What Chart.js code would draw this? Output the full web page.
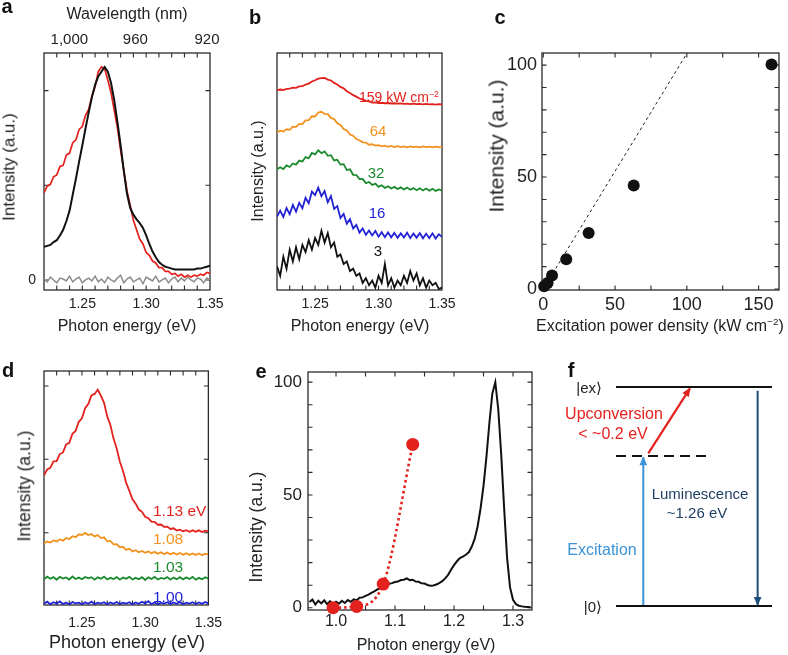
<!DOCTYPE html>
<html>
<head>
<meta charset="utf-8">
<script src="https://cdn.jsdelivr.net/npm/chart.js@4.4.1/dist/chart.umd.min.js"></script>
<style>
  body { margin: 0; background: #fff; }
  #fig { position: relative; width: 788px; height: 655px; overflow: hidden; background: #fff;
         font-family: "Liberation Sans", Arial, Helvetica, sans-serif; color: #222; }
  canvas { position: absolute; }
  .t, .l, .r { position: absolute; white-space: nowrap; line-height: 1; }
  .t { transform: translate(-50%, -50%); }
  .l { transform: translate(0, -50%); }
  .r { transform: translate(-100%, -50%); }
  .v { transform: translate(-50%, -50%) rotate(-90deg); }
  .p { font-weight: bold; font-size: 20px; color: #111; }
  sup { font-size: .62em; vertical-align: .6em; line-height: 0; }
</style>
</head>
<body>
<div id="fig">
  <canvas id="cA" width="232" height="340" style="left:0;top:0"></canvas>
  <canvas id="cB" width="232" height="340" style="left:232px;top:0"></canvas>
  <canvas id="cC" width="324" height="340" style="left:464px;top:0"></canvas>
  <canvas id="cD" width="232" height="315" style="left:0;top:340px"></canvas>
  <canvas id="cE" width="310" height="315" style="left:232px;top:340px"></canvas>
  <canvas id="cF" width="246" height="315" style="left:542px;top:340px"></canvas>

  <!-- panel letters -->
  <div class="t p" style="left:7px;top:6px">a</div>
  <div class="t p" style="left:255px;top:17px">b</div>
  <div class="t p" style="left:500px;top:17px">c</div>
  <div class="t p" style="left:8px;top:370px">d</div>
  <div class="t p" style="left:261px;top:371px">e</div>
  <div class="t p" style="left:571px;top:370px">f</div>

  <!-- axis titles -->
  <div class="t" style="left:127px;top:14px;font-size:16px">Wavelength (nm)</div>
  <div class="t" style="left:127px;top:326px;font-size:16px">Photon energy (eV)</div>
  <div class="t" style="left:360px;top:326px;font-size:16px">Photon energy (eV)</div>
  <div class="l" style="left:536px;top:326px;font-size:16px">Excitation power density (kW cm<sup>−2</sup>)</div>
  <div class="t" style="left:127px;top:642px;font-size:18px">Photon energy (eV)</div>
  <div class="t" style="left:426px;top:645px;font-size:16px">Photon energy (eV)</div>
  <div class="t v" style="left:9px;top:167px;font-size:17px">Intensity (a.u.)</div>
  <div class="t v" style="left:258px;top:171px;font-size:16px">Intensity (a.u.)</div>
  <div class="t v" style="left:496px;top:146px;font-size:21px">Intensity (a.u.)</div>
  <div class="t v" style="left:25px;top:486px;font-size:17.5px">Intensity (a.u.)</div>
  <div class="t v" style="left:257px;top:527px;font-size:17.5px">Intensity (a.u.)</div>

  <!-- panel b labels -->
  <div class="l" style="left:359px;top:97px;font-size:14px;color:#e3211d">159 kW cm<sup>−2</sup></div>
  <div class="t" style="left:378px;top:130px;font-size:15px;color:#f2921e">64</div>
  <div class="t" style="left:376px;top:172px;font-size:15px;color:#1b8a2c">32</div>
  <div class="t" style="left:377px;top:212px;font-size:15px;color:#2323d6">16</div>
  <div class="t" style="left:378px;top:250px;font-size:15px;color:#111">3</div>

  <!-- panel d labels -->
  <div class="l" style="left:153px;top:511px;font-size:15.5px;color:#e3211d">1.13 eV</div>
  <div class="l" style="left:153px;top:539px;font-size:15.5px;color:#f2921e">1.08</div>
  <div class="l" style="left:153px;top:567px;font-size:15.5px;color:#1b8a2c">1.03</div>
  <div class="l" style="left:153px;top:597px;font-size:15.5px;color:#2323d6">1.00</div>

  <!-- panel f labels -->
  <div class="r" style="left:602px;top:387px;font-size:15px">|ex⟩</div>
  <div class="r" style="left:602px;top:606px;font-size:15px">|0⟩</div>
  <div class="t" style="left:614px;top:414px;font-size:16px;color:#e3211d">Upconversion</div>
  <div class="t" style="left:613px;top:434px;font-size:16px;color:#e3211d">&lt; ~0.2 eV</div>
  <div class="t" style="left:700px;top:493px;font-size:15px;color:#1f3f63">Luminescence</div>
  <div class="t" style="left:697px;top:512px;font-size:15px;color:#1f3f63">~1.26 eV</div>
  <div class="t" style="left:602px;top:550px;font-size:16px;color:#3a93d5">Excitation</div>
</div>

<script>
// ---- data ----
const energyGrid = [1.2200, 1.2225, 1.2250, 1.2275, 1.2300, 1.2325, 1.2350, 1.2375, 1.2400, 1.2425,
  1.2450, 1.2475, 1.2500, 1.2525, 1.2550, 1.2575, 1.2600, 1.2625, 1.2650, 1.2675,
  1.2700, 1.2725, 1.2750, 1.2775, 1.2800, 1.2825, 1.2850, 1.2875, 1.2900, 1.2925,
  1.2950, 1.2975, 1.3000, 1.3025, 1.3050, 1.3075, 1.3100, 1.3125, 1.3150, 1.3175,
  1.3200, 1.3225, 1.3250, 1.3275, 1.3300, 1.3325, 1.3350, 1.3375, 1.3400, 1.3425,
  1.3450, 1.3475, 1.3500];

// panel a
const aDirect = [0.35, 0.36, 0.37, 0.40, 0.42, 0.47, 0.53, 0.62, 0.73, 0.90,
  1.07, 1.25, 1.42, 1.60, 1.77, 1.93, 2.06, 2.15, 2.20, 2.25,
  2.20, 2.08, 1.90, 1.67, 1.42, 1.15, 0.91, 0.76, 0.69, 0.64,
  0.60, 0.55, 0.47, 0.38, 0.30, 0.24, 0.19, 0.16, 0.14, 0.13,
  0.12, 0.11, 0.11, 0.11, 0.11, 0.11, 0.11, 0.11, 0.12, 0.12,
  0.13, 0.14, 0.15];
const aUpconv = [0.92, 0.99, 1.01, 1.09, 1.11, 1.20, 1.21, 1.32, 1.34, 1.45,
  1.48, 1.59, 1.62, 1.74, 1.80, 1.94, 2.04, 2.20, 2.25, 2.23,
  2.11, 1.98, 1.79, 1.61, 1.37, 1.16, 0.94, 0.79, 0.63, 0.53,
  0.43, 0.38, 0.29, 0.26, 0.20, 0.18, 0.13, 0.13, 0.09, 0.09,
  0.06, 0.07, 0.04, 0.06, 0.03, 0.05, 0.03, 0.05, 0.04, 0.06,
  0.05, 0.08, 0.07];
const aBackground = [0.01, -0.02, 0.03, 0.00, -0.03, 0.02, 0.01, -0.01, 0.04, -0.02,
  0.01, 0.03, -0.03, 0.00, 0.02, -0.01, 0.04, -0.02, 0.01, -0.03,
  0.03, 0.00, -0.02, 0.02, 0.05, -0.03, 0.01, 0.03, -0.02, 0.00,
  0.02, -0.04, 0.03, 0.01, -0.01, 0.04, -0.02, 0.00, 0.02, -0.03,
  0.01, 0.03, -0.02, 0.02, -0.01, 0.03, 0.00, -0.02, 0.02, 0.01,
  -0.03, 0.02, 0.00];

// panel b (offset spectra, one per power density)
const bPower159 = [84.3, 84.6, 84.4, 84.9, 85.0, 85.4, 85.3, 85.9, 86.0, 86.7,
  87.1, 88.0, 88.5, 89.2, 89.4, 89.5, 88.8, 88.4, 87.4, 86.7,
  85.7, 85.1, 83.9, 83.1, 82.2, 81.6, 80.8, 80.4, 79.8, 79.6,
  79.1, 79.2, 78.9, 79.0, 78.8, 78.9, 78.7, 78.8, 78.6, 78.7,
  78.5, 78.6, 78.4, 78.6, 78.4, 78.5, 78.3, 78.5, 78.3, 78.4,
  78.2, 78.4, 78.3];
const bPower64 = [66.5, 67.2, 66.9, 67.8, 67.6, 68.9, 68.8, 70.1, 70.0, 71.6,
  71.7, 73.3, 73.2, 74.9, 75.2, 74.3, 74.2, 72.6, 72.1, 70.3,
  69.6, 67.9, 67.3, 65.6, 65.1, 63.7, 63.2, 62.3, 62.2, 61.3,
  61.5, 60.9, 61.1, 60.6, 60.9, 60.4, 60.8, 60.3, 60.7, 60.3,
  60.6, 60.2, 60.6, 60.3, 60.5, 60.2, 60.6, 60.3, 60.5, 60.2,
  60.5, 60.3, 60.4];
const bPower32 = [50.9, 51.8, 51.0, 52.6, 51.9, 53.4, 52.9, 54.6, 54.2, 56.1,
  55.6, 57.8, 57.2, 58.9, 57.7, 58.5, 56.6, 56.9, 54.7, 55.0,
  52.9, 53.1, 50.6, 50.9, 48.6, 48.5, 46.8, 46.9, 45.1, 45.6,
  44.3, 44.9, 43.5, 44.2, 43.1, 43.8, 42.8, 43.5, 42.6, 43.3,
  42.4, 43.2, 42.3, 43.0, 42.1, 42.9, 42.0, 42.8, 41.9, 42.7,
  41.8, 42.4, 42.0];
const bPower16 = [31.0, 33.5, 30.8, 34.6, 32.0, 35.9, 33.1, 36.8, 34.5, 38.9,
  36.6, 41.5, 40.0, 43.2, 39.6, 41.8, 37.0, 39.6, 34.2, 35.4,
  30.4, 32.1, 28.0, 29.9, 26.0, 27.5, 24.2, 26.0, 23.3, 25.1,
  23.0, 24.9, 22.5, 24.4, 22.3, 24.3, 22.2, 24.1, 22.0, 23.9,
  22.2, 24.2, 21.9, 23.8, 22.1, 24.0, 21.8, 23.7, 21.9, 23.9,
  21.7, 23.5, 22.4];
const bPower3 = [10, 6, 14, 9, 17, 12, 18, 13, 19, 16,
  21, 17, 22, 19, 25, 20, 24, 18, 20, 14,
  15, 11, 12, 8, 9, 6, 7, 3, 5, 2,
  4, 1, 6, 3, 11, 2, 5, 1, 4, 2,
  6, 3, 8, 4, 7, 2, 5, 1, 4, 2,
  3, 0.5, 1];

// panel c
const powerDensity = [0.6, 3, 6.1, 16, 31.6, 63, 159];
const powerIntensity = [1.2, 2.7, 6, 13.3, 25, 46.2, 100.3];
const fitLineX = [0, 100];
const fitLineY = [0, 105.2];

// panel d (offset spectra, one per excitation energy)
const dExc113 = [55.4, 57.9, 58.6, 61.4, 61.5, 64.5, 65.2, 68.6, 69.3, 73.2,
  74.4, 78.3, 79.8, 84.1, 85.9, 89.6, 90.2, 92.0, 89.5, 86.4,
  80.6, 76.9, 71.1, 66.9, 61.2, 57.3, 52.2, 48.8, 45.2, 43.3,
  40.8, 39.8, 37.7, 37.1, 35.6, 35.5, 34.3, 34.4, 33.4, 33.5,
  32.5, 32.8, 31.8, 32.2, 31.5, 32.0, 31.3, 31.9, 31.3, 31.9,
  31.2, 31.8, 31.5];
const dExc108 = [26.3, 27.1, 26.7, 27.6, 27.1, 28.0, 27.5, 28.6, 28.2, 29.4,
  29.0, 30.2, 29.9, 30.8, 29.9, 30.3, 29.3, 29.9, 28.6, 28.9,
  27.2, 27.4, 25.9, 26.0, 24.7, 24.8, 23.6, 24.0, 22.9, 23.4,
  22.5, 23.1, 22.3, 22.9, 22.1, 22.7, 21.9, 22.5, 21.8, 22.4,
  21.7, 22.3, 21.6, 22.2, 21.5, 22.1, 21.4, 22.0, 21.4, 22.0,
  21.3, 21.9, 21.6];
const dExc103 = [11.0, 12.1, 11.2, 11.9, 10.8, 12.0, 11.3, 11.8, 10.9, 12.2,
  11.1, 11.7, 11.0, 12.0, 11.4, 11.9, 10.8, 11.8, 11.2, 12.1,
  10.9, 11.6, 11.1, 11.9, 10.8, 11.7, 11.2, 12.0, 10.9, 11.6,
  11.0, 11.9, 10.7, 11.8, 11.1, 12.0, 10.9, 11.6, 11.2, 11.9,
  10.8, 11.7, 11.0, 11.9, 10.9, 11.8, 11.1, 12.0, 10.8, 11.6,
  11.0, 11.9, 11.3];
const dExc100 = [0.5, 1.4, 0.3, 1.2, 0.6, 1.5, 0.4, 1.1, 0.2, 1.3,
  0.7, 1.0, 0.3, 1.2, 0.5, 1.4, 0.4, 1.0, 0.6, 1.2,
  0.3, 1.1, 0.5, 1.3, 0.4, 1.0, 0.6, 1.2, 0.3, 1.1,
  0.5, 1.4, 0.7, 1.6, 0.4, 1.1, 0.3, 1.0, 0.6, 1.2,
  0.4, 1.1, 0.5, 1.3, 0.3, 1.0, 0.6, 1.2, 0.4, 1.1,
  0.5, 1.3, 0.6];

// panel e
const eEnergy = [0.955, 0.960, 0.965, 0.970, 0.975, 0.980, 0.985, 0.990, 0.995, 1.000,
  1.005, 1.010, 1.015, 1.020, 1.025, 1.030, 1.035, 1.040, 1.045, 1.050,
  1.055, 1.060, 1.065, 1.070, 1.075, 1.080, 1.085, 1.090, 1.095, 1.100,
  1.105, 1.110, 1.115, 1.120, 1.125, 1.130, 1.135, 1.140, 1.145, 1.150,
  1.155, 1.160, 1.165, 1.170, 1.175, 1.180, 1.185, 1.190, 1.195, 1.200,
  1.205, 1.210, 1.215, 1.220, 1.225, 1.230, 1.235, 1.240, 1.245, 1.250,
  1.255, 1.260, 1.265, 1.270, 1.275, 1.280, 1.285, 1.290, 1.295, 1.300,
  1.305, 1.310, 1.315, 1.320, 1.325, 1.330];
const eSpectrum = [2.5, 3.6, 1.4, 3.1, 1.9, 3.3, 1.6, 2.9, 1.5, 2.7,
  1.8, 3.1, 2.1, 3.4, 2.6, 3.7, 3.3, 4.4, 4.6, 5.3,
  5.8, 6.6, 7.3, 8.1, 8.7, 9.4, 9.9, 10.6, 10.9, 11.4,
  11.6, 12.3, 12.4, 13.0, 12.2, 12.4, 11.6, 11.5, 10.8, 10.7,
  10.1, 9.8, 9.9, 10.3, 10.9, 11.8, 13.0, 14.6, 16.8, 18.9,
  20.6, 22.0, 22.7, 23.5, 24.6, 27.0, 30.5, 36.0, 44.0, 54.0,
  67.0, 82.0, 95.0, 100.0, 88.0, 68.0, 44.0, 22.0, 9.0, 3.5,
  1.6, 0.9, 0.6, 0.4, 0.3, 0.2];
const excEnergy = [0.995, 1.035, 1.08, 1.13];
const excUpconvIntensity = [0, 0.6, 10.5, 72.4];

// panel f (level diagram in its own 0-100 units)
const levelSpan = [0, 100];
const groundLevel = 0, virtualLevel = 68.5, excitedLevel = 100;
const virtualSpan = [0, 60];
const excitationX = [17.5, 17.5], excitationY = [0, 67.9];
const upconvX = [20.7, 47.4], upconvY = [69.7, 99.4];
const lumX = [90.8, 90.8], lumY = [98.3, 0.5];

// ticks
const energyTicks = [1.22, 1.23, 1.24, 1.25, 1.26, 1.27, 1.28, 1.29, 1.30, 1.31, 1.32, 1.33, 1.34, 1.35];
const energyLabels = [1.25, 1.30, 1.35];
const wavelengthTicks = [1000, 960, 920];
const aYTicks = [0, 1, 2];
const dYTicks = [30.9, 62.3, 93.6];
const cXTicks = [0, 25, 50, 75, 100, 125, 150];
const cXLabels = [0, 50, 100, 150];
const hundredTicks = [0, 10, 20, 30, 40, 50, 60, 70, 80, 90, 100];
const hundredLabels = [0, 50, 100];
const eXTicks = [1.0, 1.05, 1.1, 1.15, 1.2, 1.25, 1.3];
const eXLabels = [1.0, 1.1, 1.2, 1.3];

// ---- colours ----
const RED = '#e3211d', ORANGE = '#f2921e', GREEN = '#1b8a2c', BLUE = '#2323d6',
      BLACK = '#111111', GRAY = '#8c8c8c';

Chart.defaults.font.family = '"Liberation Sans", Arial, Helvetica, sans-serif';
Chart.defaults.color = '#222';

// box with inward tick marks on chosen sides
const framePlugin = {
  id: 'frame',
  defaults: { len: 4.5, marks: [] },
  beforeDatasetsDraw(chart, args, opts) {
    const { ctx, chartArea: a } = chart;
    ctx.save();
    ctx.strokeStyle = '#2a2a2a';
    ctx.lineWidth = 1.3;
    ctx.strokeRect(a.left, a.top, a.right - a.left, a.bottom - a.top);
    ctx.lineWidth = 1.1;
    ctx.beginPath();
    opts.marks.forEach(m => {
      const s = chart.scales[m.scale];
      s.ticks.forEach(t => {
        const p = s.getPixelForValue(t.value);
        if (s.isHorizontal()) {
          if (p <= a.left + 1 || p >= a.right - 1) return;
          if (m.sides.includes('bottom')) { ctx.moveTo(p, a.bottom); ctx.lineTo(p, a.bottom - opts.len); }
          if (m.sides.includes('top')) { ctx.moveTo(p, a.top); ctx.lineTo(p, a.top + opts.len); }
        } else {
          if (p <= a.top + 1 || p >= a.bottom - 1) return;
          if (m.sides.includes('left')) { ctx.moveTo(a.left, p); ctx.lineTo(a.left + opts.len, p); }
          if (m.sides.includes('right')) { ctx.moveTo(a.right, p); ctx.lineTo(a.right - opts.len, p); }
        }
      });
    });
    ctx.stroke();
    ctx.restore();
  }
};

const arrowPlugin = {
  id: 'arrowHeads',
  afterDatasetsDraw(chart) {
    const ctx = chart.ctx;
    chart.data.datasets.forEach((ds, i) => {
      if (!ds.arrowHead) return;
      const pts = chart.getDatasetMeta(i).data;
      const p0 = pts[pts.length - 2], p1 = pts[pts.length - 1];
      const ang = Math.atan2(p1.y - p0.y, p1.x - p0.x);
      ctx.save();
      ctx.fillStyle = ds.borderColor;
      ctx.translate(p1.x, p1.y);
      ctx.rotate(ang);
      ctx.beginPath();
      ctx.moveTo(1, 0);
      ctx.lineTo(-8, -3.8);
      ctx.lineTo(-8, 3.8);
      ctx.closePath();
      ctx.fill();
      ctx.restore();
    });
  }
};

Chart.register(framePlugin, arrowPlugin);

const near = (list, v) => list.some(t => Math.abs(t - v) < 1e-6);

function axis(o) {
  return {
    type: 'linear', position: o.pos, min: o.min, max: o.max, display: o.show !== false,
    grid: { display: false, drawTicks: false }, border: { display: false },
    afterBuildTicks: s => { s.ticks = o.ticks.map(value => ({ value })); },
    afterFit: s => {
      if (o.fit === undefined) return;
      if (o.pos === 'left' || o.pos === 'right') s.width = o.fit; else s.height = o.fit;
    },
    ticks: { autoSkip: false, maxRotation: 0, minRotation: 0, padding: o.pad || 0,
             color: '#222', font: { size: o.size || 14 }, callback: o.label || (() => '') }
  };
}

function series(xs, ys, color, width, extra) {
  return Object.assign({
    data: xs.map((x, i) => ({ x, y: ys[i] })),
    borderColor: color, backgroundColor: color, borderWidth: width,
    pointRadius: 0, tension: 0, fill: false
  }, extra || {});
}

function options(o) {
  return {
    responsive: false, animation: false, events: [],
    layout: { padding: Object.assign({ left: 0, top: 0, right: 0, bottom: 0 }, o.padding) },
    plugins: { legend: { display: false }, tooltip: { enabled: false }, frame: o.frame },
    scales: o.scales
  };
}

const energyLabel = v => near(energyLabels, v) ? v.toFixed(2) : '';
const xBoth = { scale: 'x', sides: ['bottom', 'top'] };
const yBoth = { scale: 'y', sides: ['left', 'right'] };

// a
new Chart(document.getElementById('cA'), {
  type: 'line',
  data: { datasets: [
    series(energyGrid, aDirect, BLACK, 2),
    series(energyGrid, aUpconv, RED, 1.7),
    series(energyGrid, aBackground, GRAY, 1.5)
  ] },
  options: options({
    padding: { right: 22 },
    scales: {
      x: axis({ pos: 'bottom', min: 1.22, max: 1.35, ticks: energyTicks, label: energyLabel, size: 14, pad: 6, fit: 50 }),
      x2: axis({ pos: 'top', min: 1.22, max: 1.35, ticks: wavelengthTicks.map(nm => 1239.84 / nm),
                 label: v => Math.round(1239.84 / v).toLocaleString('en-US'), size: 15, pad: 4, fit: 53 }),
      y: axis({ pos: 'left', min: -0.106, max: 2.397, ticks: aYTicks, label: v => v === 0 ? '0' : '', size: 14, pad: 8, fit: 44 })
    },
    frame: { marks: [xBoth, yBoth] }
  })
});

// b
new Chart(document.getElementById('cB'), {
  type: 'line',
  data: { datasets: [
    series(energyGrid, bPower159, RED, 1.8),
    series(energyGrid, bPower64, ORANGE, 1.8),
    series(energyGrid, bPower32, GREEN, 1.8),
    series(energyGrid, bPower16, BLUE, 1.8),
    series(energyGrid, bPower3, BLACK, 1.8)
  ] },
  options: options({
    padding: { left: 45, top: 53, right: 22 },
    scales: {
      x: axis({ pos: 'bottom', min: 1.22, max: 1.35, ticks: energyTicks, label: energyLabel, size: 14, pad: 6, fit: 50 }),
      y: axis({ pos: 'left', min: 0, max: 100, ticks: [], show: false })
    },
    frame: { marks: [xBoth] }
  })
});

// c
new Chart(document.getElementById('cC'), {
  type: 'scatter',
  data: { datasets: [
    series(powerDensity, powerIntensity, BLACK, 0, { pointRadius: 6, pointBorderWidth: 0, showLine: false, clip: false }),
    series(fitLineX, fitLineY, '#222', 1, { showLine: true, borderDash: [3, 3] })
  ] },
  options: options({
    padding: { top: 53, right: 9 },
    scales: {
      x: axis({ pos: 'bottom', min: -0.9, max: 164.2, ticks: cXTicks, label: v => near(cXLabels, v) ? String(v) : '', size: 18, pad: 4, fit: 50 }),
      y: axis({ pos: 'left', min: -0.45, max: 105.4, ticks: hundredTicks, label: v => near(hundredLabels, v) ? String(v) : '', size: 18, pad: 5, fit: 78 })
    },
    frame: { marks: [xBoth, yBoth] }
  })
});

// d
new Chart(document.getElementById('cD'), {
  type: 'line',
  data: { datasets: [
    series(energyGrid, dExc113, RED, 1.8),
    series(energyGrid, dExc108, ORANGE, 1.8),
    series(energyGrid, dExc103, GREEN, 1.8),
    series(energyGrid, dExc100, BLUE, 1.8)
  ] },
  options: options({
    padding: { top: 31, right: 22 },
    scales: {
      x: axis({ pos: 'bottom', min: 1.22, max: 1.35, ticks: energyTicks, label: energyLabel, size: 14, pad: 10, fit: 50 }),
      y: axis({ pos: 'left', min: 0, max: 100, ticks: dYTicks, size: 14, fit: 44 })
    },
    frame: { marks: [xBoth, yBoth] }
  })
});

// e
new Chart(document.getElementById('cE'), {
  type: 'line',
  data: { datasets: [
    series(excEnergy, excUpconvIntensity, RED, 2.6, {
      borderDash: [2.5, 3], cubicInterpolationMode: 'monotone', pointRadius: 6.5,
      pointBorderWidth: 0, clip: false }),
    series(eEnergy, eSpectrum, BLACK, 2)
  ] },
  options: options({
    padding: { top: 32, right: 10 },
    scales: {
      x: axis({ pos: 'bottom', min: 0.9525, max: 1.3322, ticks: eXTicks, label: v => near(eXLabels, v) ? v.toFixed(1) : '', size: 16, pad: 2, fit: 45 }),
      y: axis({ pos: 'left', min: -1, max: 104.5, ticks: hundredTicks, label: v => near(hundredLabels, v) ? String(v) : '', size: 17, pad: 6, fit: 76 })
    },
    frame: { marks: [xBoth, yBoth] }
  })
});

// f
new Chart(document.getElementById('cF'), {
  type: 'scatter',
  data: { datasets: [
    series(levelSpan, [excitedLevel, excitedLevel], BLACK, 2.2, { showLine: true, clip: false }),
    series(levelSpan, [groundLevel, groundLevel], BLACK, 2.2, { showLine: true, clip: false }),
    series(virtualSpan, [virtualLevel, virtualLevel], BLACK, 2, { showLine: true, borderDash: [10, 6], clip: false }),
    series(excitationX, excitationY, '#3a93d5', 2, { showLine: true, clip: false, arrowHead: true }),
    series(upconvX, upconvY, RED, 2.2, { showLine: true, clip: false, arrowHead: true }),
    series(lumX, lumY, '#1f4d7a', 2, { showLine: true, clip: false, arrowHead: true })
  ] },
  options: options({
    padding: { left: 74, top: 47, right: 16, bottom: 49 },
    scales: {
      x: axis({ pos: 'bottom', min: 0, max: 100, ticks: [], show: false }),
      y: axis({ pos: 'left', min: 0, max: 100, ticks: [], show: false })
    },
    frame: false
  })
});
</script>
</body>
</html>
